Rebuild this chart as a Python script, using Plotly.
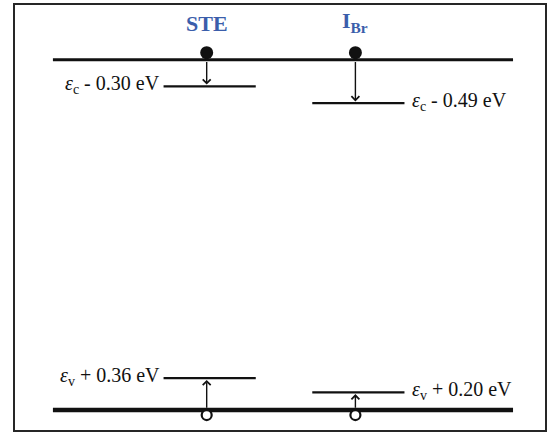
import plotly.graph_objects as go

# ---- data -------------------------------------------------------------
defects = ["STE", "I<sub>Br</sub>"]
defect_pos = [0, 1]
cb_offsets = [0.30, 0.49]   # eV below the conduction band edge
vb_offsets = [0.36, 0.20]   # eV above the valence band edge
cb_labels = ["<i>ε</i><sub>c</sub> - 0.30 eV", "<i>ε</i><sub>c</sub> - 0.49 eV"]
vb_labels = ["<i>ε</i><sub>v</sub> + 0.36 eV", "<i>ε</i><sub>v</sub> + 0.20 eV"]
label_side = ["left", "right"]

EV = 0.0
EC = 3.95   # schematic band gap used for the drawing

# ---- style ------------------------------------------------------------
SERIF = "Liberation Serif, Times New Roman, serif"
BLUE = "#3B5EAB"
BLACK = "#111111"
band_x = [-1.034, 2.06]
lev_left, lev_right = 0.29, 0.33

fig = go.Figure()

# band edges
fig.add_trace(go.Scatter(x=band_x, y=[EC, EC], mode="lines",
                         line=dict(color=BLACK, width=3), hoverinfo="skip"))
fig.add_trace(go.Scatter(x=band_x, y=[EV, EV], mode="lines",
                         line=dict(color=BLACK, width=4.5), hoverinfo="skip"))

annotations = []
for i, name in enumerate(defects):
    xp = defect_pos[i]
    yc = EC - cb_offsets[i]
    yv = EV + vb_offsets[i]
    # defect levels
    for yl in (yc, yv):
        fig.add_trace(go.Scatter(x=[xp - lev_left, xp + lev_right], y=[yl, yl],
                                 mode="lines", line=dict(color=BLACK, width=2.3),
                                 hoverinfo="skip"))
    # arrows
    annotations.append(dict(x=xp, y=yc + 0.02, ax=xp, ay=EC - 0.01,
                            xref="x", yref="y", axref="x", ayref="y",
                            showarrow=True, arrowhead=4, arrowsize=1.1,
                            arrowwidth=1.4, arrowcolor=BLACK, standoff=0,
                            startstandoff=0, text=""))
    annotations.append(dict(x=xp, y=yv - 0.02, ax=xp, ay=EV + 0.01,
                            xref="x", yref="y", axref="x", ayref="y",
                            showarrow=True, arrowhead=4, arrowsize=1.1,
                            arrowwidth=1.4, arrowcolor=BLACK, standoff=0,
                            startstandoff=0, text=""))
    # labels of the levels
    if label_side[i] == "left":
        lx, anchor = xp - lev_left - 0.012, "right"
    else:
        lx, anchor = xp + lev_right + 0.035, "left"
    annotations.append(dict(x=lx, y=yc, xref="x", yref="y", text=cb_labels[i],
                            showarrow=False, xanchor=anchor, yanchor="middle",
                            yshift=2,
                            font=dict(family=SERIF, size=20, color=BLACK)))
    annotations.append(dict(x=lx, y=yv, xref="x", yref="y", text=vb_labels[i],
                            showarrow=False, xanchor=anchor, yanchor="middle",
                            yshift=2,
                            font=dict(family=SERIF, size=20, color=BLACK)))
    # defect name
    annotations.append(dict(x=xp, y=EC, xref="x", yref="y",
                            text="<b>" + name + "</b>", showarrow=False,
                            xanchor="center", yanchor="bottom", yshift=22,
                            font=dict(family=SERIF, size=22, color=BLUE)))

# electrons (filled) and holes (open)
fig.add_trace(go.Scatter(x=defect_pos, y=[EC + 0.079] * len(defect_pos),
                         mode="markers",
                         marker=dict(size=13, color=BLACK), hoverinfo="skip"))
fig.add_trace(go.Scatter(x=defect_pos, y=[EV - 0.056] * len(defect_pos),
                         mode="markers",
                         marker=dict(size=10, color="white",
                                     line=dict(color=BLACK, width=2.2)),
                         hoverinfo="skip"))

fig.update_layout(
    width=550, height=434,
    margin=dict(l=15, r=4, t=3, b=4),
    paper_bgcolor="white", plot_bgcolor="white",
    showlegend=False,
    annotations=annotations,
    xaxis=dict(range=[-1.289, 2.275], showgrid=False, zeroline=False,
               showticklabels=False, ticks="", showline=True, mirror=True,
               linecolor="#262626", linewidth=2, fixedrange=True),
    yaxis=dict(range=[-0.2245, 4.567], showgrid=False, zeroline=False,
               showticklabels=False, ticks="", showline=True, mirror=True,
               linecolor="#262626", linewidth=2, fixedrange=True),
)

fig.write_html("out.html", config={"displayModeBar": False},
               post_script="document.body.style.margin='0';"
                           "document.body.style.overflow='hidden';")
